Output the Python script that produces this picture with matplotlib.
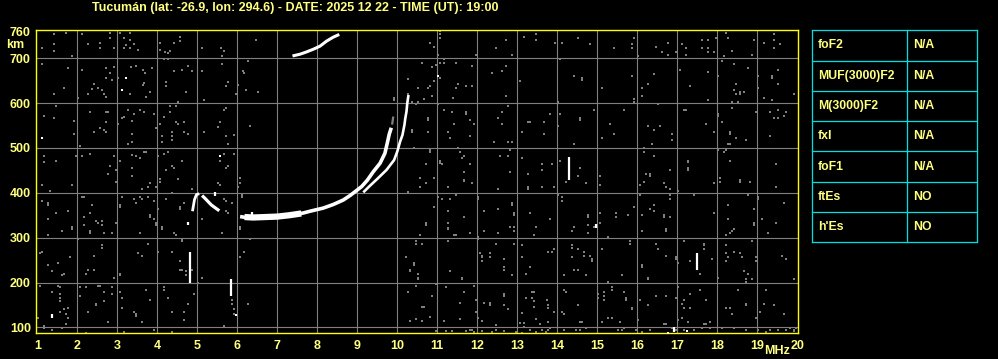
import matplotlib
matplotlib.use("Agg")
from matplotlib import pyplot as plt

# ---- ionogram header / table ----
titulo = "Tucumán (lat: -26.9, lon: 294.6) - DATE: 2025 12 22 - TIME (UT): 19:00"
param_nombres = ["foF2", "MUF(3000)F2", "M(3000)F2", "fxI", "foF1", "ftEs", "h'Es"]
param_valores = ["N/A", "N/A", "N/A", "N/A", "N/A", "NO", "NO"]

xticks = list(range(1, 21))
yticks = [100, 200, 300, 400, 500, 600, 700, 760]

# ---- echo traces (MHz, km) ----
f_banda = [6.18, 6.4, 6.7, 7.0, 7.3, 7.6]
h_banda = [346, 345, 346, 347, 350, 354]
f_main = [6.07, 6.3, 6.6, 7.0, 7.3, 7.65, 7.82, 8.15, 8.4, 8.65, 8.82, 8.98, 9.11, 9.25,
          9.40, 9.57, 9.69, 9.75, 9.80, 9.85]
h_main = [347, 344, 345, 347, 350, 355, 359, 366, 374, 384, 394, 405, 414, 428,
          447, 466, 488, 511, 531, 545]
f_main_top = [9.87, 9.90]
h_main_top = [552, 570]
f_seg = [9.15, 9.32, 9.5, 9.73, 9.92, 10.0, 10.07, 10.13, 10.18, 10.2, 10.23, 10.25, 10.28]
h_seg = [401, 416, 431, 451, 473, 492, 514, 529, 552, 566, 581, 600, 618]
f_salto = [7.38, 7.57, 7.73, 7.90, 8.07, 8.23, 8.40, 8.55]
h_salto = [705, 709, 714, 720, 727, 738, 747, 753]
f_cusp_izq = [4.88, 4.93, 4.98, 5.05]
h_cusp_izq = [359, 385, 396, 398]
f_cusp_der = [5.12, 5.2, 5.35, 5.55]
h_cusp_der = [394, 387, 373, 360]

# vertical spikes: freq, h_low, h_high
spikes = [(4.83, 200, 267), (5.84, 170, 207), (14.3, 428, 480), (17.5, 228, 266),
          (1.38, 122, 131), (14.98, 322, 330), (16.93, 90, 100), (6.38, 350, 357),
          (5.45, 394, 401), (4.78, 328, 334)]
puntos_blancos = [(3.23, 656), (3.13, 629), (1.13, 522), (5.58, 481), (5.98, 128),
                  (17.25, 92), (16.78, 88), (11.03, 660)]

# ---- background noise (MHz, km) ----
ruido_a = [(1.43,754),(1.73,757),(2.13,753),(2.58,762),(2.83,757),(3.08,757),(3.33,757),(3.18,746),
    (3.33,740),(3.43,731),(3.22,729),(2.83,744),(2.58,735),(2.58,723),(2.28,731),(2.93,723),(3.18,722),
    (3.33,722),(3.53,719),(1.43,731),(1.43,717),(1.13,722),(1.88,704),(4.07,735),(4.08,719),(4.20,713),
    (4.28,711),(4.33,717),(4.18,699),(4.28,699),(4.58,747),(4.58,738),(4.43,735),(5.13,723),(5.60,722),
    (5.68,717),(5.63,704),(6.48,740),
    (1.13,687),(1.78,678),(2.13,674),(2.73,678),(2.93,681),(2.83,666),(2.73,656),(2.88,652),(3.03,656),
    (3.35,680),(3.48,683),(3.65,674),(3.70,666),(3.88,678),(3.68,644),(3.65,640),(4.23,647),(4.23,638),
    (4.43,671),(4.63,674),(4.78,683),(4.88,671),(5.13,671),(5.63,687),(5.78,647),(5.73,638),(6.03,640),
    (6.15,671),(6.18,666),(6.28,693),(6.23,629),(6.53,625),(1.68,634),(1.43,620),(2.03,611),(2.28,620),
    (2.38,632),(2.43,643),(2.53,634),(2.63,629),(2.68,620),(2.73,613),(3.32,620),(3.73,614),(3.83,625),
    (4.73,625),(5.18,607),(5.98,620),(4.53,602),
    (1.48,593),(1.17,571),(1.43,566),(1.93,560),(2.33,580),(2.73,580),(2.78,580),(2.73,558),(2.58,544),
    (2.68,541),(2.43,535),(2.73,535),(1.93,531),(2.08,504),(3.28,584),(3.43,575),(3.18,569),(3.13,566),
    (3.58,584),(3.68,580),(3.93,575),(3.38,560),(3.03,553),(3.38,531),(3.28,508),(3.38,513),(3.98,544),
    (4.33,593),(4.33,580),(4.48,593),(4.18,569),(4.08,553),(4.48,558),(4.53,553),(4.68,558),(4.13,526),
    (4.38,535),(4.38,526),(4.38,517),(4.13,513),(4.68,535),(4.78,531),(5.18,535),(5.73,589),(5.68,584),
    (5.53,547),(5.58,558),(5.73,526),(5.93,529),(5.78,508),(6.33,549),
    (1.18,481),(1.18,468),(1.48,472),(1.98,481),(2.13,481),(2.33,486),(2.93,481),(2.83,459),(2.78,441),
    (2.98,450),(3.08,472),(3.38,484),(3.48,481),(3.58,477),(3.68,490),(3.73,490),(3.38,455),(3.38,437),
    (4.03,481),(4.28,490),(4.18,486),(4.63,472),(4.38,459),(4.43,455),(4.23,450),(5.58,472),(5.68,486),
    (5.93,486),(5.78,459),(5.73,455),(6.08,434),(4.08,431),(4.53,431)]
ruido_b = [(1.13,417),(1.33,404),(1.88,417),(2.98,424),(3.63,408),(3.78,413),(3.83,422),(3.98,413),
    (4.08,424),(4.38,399),(4.88,408),(5.53,422),(5.58,417),(6.03,413),(6.08,422),(6.13,395),(6.13,390),
    (1.13,381),(1.28,377),(1.28,372),(1.48,354),(1.78,359),(1.28,341),(1.63,314),(1.28,305),(1.88,323),
    (1.88,319),(2.18,346),(2.18,328),(2.13,390),(2.18,390),(2.38,372),(2.33,354),(2.48,337),(2.53,332),
    (2.63,337),(2.63,328),(2.68,310),(2.88,310),(2.33,314),(2.33,310),(2.98,332),(3.08,372),(3.08,368),
    (3.13,390),(3.43,386),(3.48,377),(3.58,390),(3.63,386),(3.78,390),(3.93,381),(3.83,350),(3.83,346),
    (3.93,341),(3.98,332),(3.98,328),(3.58,310),(4.13,323),(4.13,319),(4.03,363),(4.23,386),(4.58,368),
    (4.58,363),(4.68,377),(5.13,341),(5.63,310),(5.68,386),(5.73,381),(5.88,377),(5.73,359),(5.78,354),
    (6.08,323),(6.08,319),(6.33,296),(2.03,296),(1.13,269),(1.08,265),(1.83,256),(1.53,243),(1.28,238),
    (1.38,225),(1.63,216),(1.68,220),(2.28,229),(2.23,220),(2.43,229),(2.43,260),(2.63,278),(2.63,283),
    (2.93,211),(3.08,220),(3.08,216),(3.53,265),(3.63,260),(3.78,287),(4.03,269),(4.38,269),(4.58,247),
    (4.58,229),(4.63,229),(4.73,225),(4.73,216),(4.88,229),(5.13,211),(4.63,295),(4.63,292),(4.43,310),
    (4.48,305),(6.18,269),(6.08,256),(0.98,211),(0.98,207),(1.08,193),(1.53,193),(1.58,189),(1.58,175),
    (1.58,166),(1.38,180),(1.58,158),(1.78,144),(1.68,140),(1.58,135),(1.73,131),(1.78,122),(1.03,122),
    (1.18,104),(1.38,95),(1.63,99),(1.73,108),(2.23,189),(2.08,171),(2.08,189),(2.28,135),(2.48,149),
    (2.48,153),(2.53,193),(2.58,193),(2.68,180),(2.68,158),(2.78,113),(2.88,175),(2.88,189),(3.08,180),
    (3.13,166),(3.13,144),(3.43,135),(3.48,126),(3.63,113),(3.73,184),(3.83,162),(3.93,95),(4.18,189),
    (4.18,184),(4.28,166),(4.38,135),(4.68,135),(4.68,117),(4.78,153),(4.93,175),(5.03,198),(5.13,211),
    (5.88,162),(5.88,153),(5.93,140),(5.93,131),(5.68,104),(6.28,153),(4.38,90),(2.23,87),(3.18,90),
    (3.18,86),(1.18,99),(3.48,131)]
ruido_c = [(8.53,762),(11.08,760),(11.08,753),(11.08,744),(10.83,735),(10.93,726),(11.03,708),
    (11.98,708),(12.48,722),(12.73,740),(12.88,708),(13.18,762),(13.18,747),(13.48,753),(13.48,740),
    (10.63,689),(10.88,680),(10.98,686),(11.08,690),(11.18,698),(11.18,690),(11.48,689),(11.88,683),
    (12.38,666),(12.63,671),(12.73,683),(13.08,649),(10.53,634),(10.78,634),(10.83,638),(10.93,649),
    (11.08,656),(11.53,643),(11.48,634),(11.73,638),(11.88,638),(10.88,616),(10.68,608),(11.4,611),
    (12.73,616),(10.28,654),(10.28,620),(9.93,611),(10.38,602),(10.48,598),(10.53,602),(11.03,598),
    (11.18,584),(11.38,580),(11.73,580),(11.73,575),(10.78,566),(10.78,562),(11.83,562),(11.93,553),
    (11.43,553),(11.28,535),(10.78,535),(11.33,522),(11.83,526),(10.38,540),(10.38,535),(12.53,566),
    (12.63,580),(12.78,593),(12.63,553),(12.43,513),(12.78,513),(12.88,513),(13.28,558),(13.33,558),
    (13.13,535),(10.43,499),(10.83,495),(10.83,490),(11.53,499),(11.58,490),(11.68,481),(11.63,477),
    (11.08,472),(11.08,466),(11.13,464),(10.73,464),(11.83,464),(11.68,446),(12.58,481),(12.78,481),
    (12.83,495),(13.13,477),(13.63,464),(13.63,450),(12.83,446),(13.28,441),(10.58,432),(10.93,432),
    (11.68,428),(9.93,607),
    (10.28,401),(10.58,413),(10.73,422),(11.28,413),(11.68,426),(11.88,422),(12.53,408),(13.28,413),
    (13.28,408),(13.63,413),(10.93,368),(11.03,390),(11.13,386),(11.33,386),(11.48,395),(12.03,390),
    (12.03,386),(12.88,377),(12.88,372),(12.53,363),(12.18,359),(11.28,359),(11.68,346),(12.93,354),
    (12.93,350),(13.33,354),(10.73,332),(10.73,328),(11.28,332),(11.28,322),(11.28,319),(10.58,305),
    (11.43,305),(11.48,305),(11.83,310),(12.18,314),(12.53,310),(12.83,323),(12.93,323),(12.93,314),
    (13.43,305),(13.48,323),(10.48,292),(10.48,287),(10.63,287),(11.28,292),(12.03,301),(12.03,296),
    (12.48,287),(12.93,287),(13.13,283),(10.23,256),(10.43,243),(10.43,238),(10.33,229),(10.33,225),
    (10.53,220),(10.53,211),(10.53,207),(11.33,225),(11.63,211),(11.63,207),(12.08,265),(12.13,260),
    (12.13,256),(12.13,247),(12.33,265),(12.33,256),(12.68,252),(12.68,234),(12.68,229),(12.88,216),
    (13.13,256),(13.23,220),(13.33,234),(10.98,196),(10.48,193),(10.28,180),(10.88,171),(11.23,189),
    (11.68,180),(11.93,193),(10.63,146),(10.68,146),(10.33,114),(10.48,119),(10.63,114),(10.83,123),
    (11.18,114),(11.58,119),(11.58,155),(11.98,162),(11.98,135),(12.03,122),(12.18,155),(12.33,155),
    (12.33,150),(12.13,114),(12.48,105),(12.68,175),(12.68,171),(12.68,150),(12.78,141),(13.13,132),
    (13.23,166),(13.38,180),(13.43,180),(13.38,166),(13.43,159),(13.43,146),(13.48,119),(13.08,110),
    (13.18,110),(13.18,101),(10.98,92),(11.23,92),(11.38,92),(11.73,92),(11.83,95),(11.88,95),(11.93,90),
    (12.13,92),(12.38,90),(12.48,95),(12.68,92),(12.98,90),(13.13,87),(13.33,95),(13.48,90),(13.58,108),
    (13.63,95)]
ruido_d = [(13.95,735),(14.13,735),(14.53,744),(14.83,731),(15.43,722),(15.88,731),(15.88,722),
    (15.93,744),(16.48,726),(16.63,713),(16.78,735),(16.78,708),(16.98,713),(17.13,731),(17.23,722),
    (17.23,708),(17.63,740),(17.78,740),(17.63,722),(17.78,722),(17.78,713),(17.93,713),(17.98,744),
    (18.23,757),(18.28,744),(18.38,717),(18.18,704),(18.13,693),(18.88,708),(18.93,740),(19.18,762),
    (19.18,735),(19.43,762),(19.43,753),(19.43,740),(19.58,731),(19.43,722),(16.03,704),(14.08,699),
    (14.43,660),(14.63,656),(14.63,652),(15.13,634),(15.88,660),(16.43,665),(16.28,643),(16.13,634),
    (16.13,616),(15.93,610),(15.93,602),(17.08,674),(17.33,638),(17.78,669),(17.78,607),(18.03,660),
    (18.43,687),(18.78,678),(18.48,643),(18.43,629),(18.58,625),(18.68,625),(18.58,620),(18.48,620),
    (19.03,660),(19.03,634),(19.38,660),(19.38,656),(19.53,674),(19.53,643),(19.18,611),(19.38,607),
    (19.93,620),(18.38,602),(18.53,602),(14.03,602),(13.83,575),(14.08,575),(14.03,549),(13.68,558),
    (13.68,531),(14.58,566),(14.58,562),(14.93,584),(15.33,553),(15.68,584),(15.43,531),(15.13,522),
    (14.43,508),(16.28,549),(16.43,540),(16.58,549),(16.53,598),(16.88,531),(16.88,517),(16.38,508),
    (17.23,584),(17.18,584),(17.73,553),(17.93,535),(18.03,575),(18.03,571),(18.13,558),(18.38,589),
    (18.33,535),(18.33,531),(18.48,522),(18.73,517),(18.28,508),(18.33,508),(18.98,580),(19.33,580),
    (19.53,584),(19.73,580),(19.68,571),(19.43,566),(19.53,566),(19.33,526),(14.08,472),(13.88,464),
    (14.58,455),(14.53,437),(15.08,437),(16.18,499),(16.18,490),(16.43,481),(16.83,450),(17.28,472),
    (17.28,468),(17.28,455),(17.28,450),(16.23,441),(16.33,441),(16.33,437),(18.03,495),(18.23,495),
    (18.18,490),(18.33,472),(19.48,464),(18.08,432),(18.58,428)]
ruido_e = [(13.93,413),(14.23,425),(14.73,422),(15.08,417),(16.08,417),(16.18,425),(16.68,422),
    (16.73,413),(16.83,408),(17.03,404),(17.93,422),(18.08,425),(18.58,425),(18.83,425),(19.48,413),
    (14.03,395),(14.13,390),(14.13,381),(14.78,350),(14.78,346),(14.93,323),(14.78,328),(14.78,310),
    (15.08,354),(15.08,332),(13.83,341),(14.43,323),(14.38,314),(15.48,354),(15.48,346),(15.78,350),
    (15.93,368),(16.13,350),(16.33,363),(16.43,372),(16.43,359),(16.68,350),(16.68,346),(16.83,346),
    (16.83,395),(16.83,386),(16.08,395),(16.13,314),(16.73,319),(16.73,314),(17.43,395),(17.93,354),
    (18.28,372),(18.28,341),(18.38,314),(18.43,319),(18.23,305),(18.33,310),(18.78,395),(19.03,390),
    (19.03,386),(18.93,363),(18.93,332),(18.93,328),(19.13,341),(19.28,310),(19.48,332),(19.68,377),
    (15.28,301),(14.38,283),(14.38,278),(14.53,274),(14.68,269),(14.68,260),(14.83,260),(14.88,252),
    (14.88,247),(13.88,269),(13.78,269),(13.93,274),(14.38,256),(14.43,229),(14.53,229),(14.18,216),
    (14.73,216),(15.13,274),(15.63,216),(15.83,292),(15.83,287),(16.13,238),(16.13,234),(16.28,211),
    (16.28,207),(16.48,287),(16.53,274),(16.73,260),(16.98,256),(16.98,252),(17.03,243),(17.18,292),
    (17.33,247),(17.58,220),(17.68,287),(17.68,283),(17.68,274),(17.88,252),(18.03,211),(18.23,283),
    (18.23,265),(18.23,247),(18.28,256),(18.43,269),(18.58,265),(18.63,256),(18.68,225),(18.78,220),
    (18.88,292),(18.98,256),(18.98,247),(18.88,207),(18.73,207),(18.73,202),(19.63,260),(19.73,252),
    (19.93,207),(15.28,202),(13.75,162),(13.78,149),(13.78,144),(14.18,184),(14.23,180),(13.93,135),
    (14.13,135),(14.18,131),(14.53,149),(13.78,113),(13.83,99),(14.58,113),(14.73,99),(15.03,175),
    (15.03,166),(15.18,180),(15.18,171),(15.18,162),(15.38,189),(15.38,184),(15.68,180),(15.73,166),
    (15.73,162),(15.88,144),(15.88,140),(15.28,122),(15.38,122),(15.13,113),(15.58,113),(15.68,99),
    (16.03,117),(16.08,162),(16.28,149),(16.48,171),(16.73,171),(16.98,166),(17.03,189),(17.03,117),
    (17.13,153),(17.18,162),(17.18,144),(17.33,175),(17.33,144),(17.58,184),(17.73,162),(17.73,108),
    (17.83,113),(17.83,99),(17.68,108),(17.13,122),(17.28,113),(18.23,144),(18.33,144),(18.38,131),
    (18.53,184),(18.73,153),(18.73,149),(18.98,122),(19.08,135),(19.18,153),(19.23,184),(19.43,149),
    (19.68,131),(19.83,99),(19.93,92),(13.78,95),(13.73,90),(14.18,95),(14.48,95),(14.58,95),(14.63,113),
    (15.53,95),(15.63,95),(15.98,95),(16.13,90),(16.33,95),(16.68,108),(16.73,108),(16.88,99),(16.98,95),
    (17.18,95),(17.43,95),(17.63,99),(18.13,99),(18.43,99),(18.73,95),(19.03,95),(19.23,90),(19.33,95),
    (19.53,95),(19.73,95),(19.93,95),(19.98,99)]

AMARILLO = "#ffff00"
TEXTO = "#ffff80"
GRIS = "#808080"
CIAN = "#00e0e0"
FUENTE = "Liberation Sans"

fig = plt.figure(figsize=(9.98, 3.59), dpi=100, facecolor="black")
ax = fig.add_axes([0.03577, 0.0730, 0.7635, 0.8448])
ax.set_facecolor("black")
ax.set_xlim(0.96, 20.01)
ax.set_ylim(88, 764)

for f in range(2, 20):
    ax.axvline(f, color=GRIS, lw=0.8, zorder=1)
for h in range(100, 800, 100):
    ax.axhline(h, color=GRIS, lw=0.8, zorder=1)

for ruido in [ruido_a, ruido_b, ruido_c, ruido_d, ruido_e]:
    ax.scatter([p[0] for p in ruido], [p[1] for p in ruido], s=4.5, marker="s",
               color=GRIS, linewidths=0, zorder=2)

# echo traces
ax.plot(f_banda, h_banda, color="white", lw=4.5, solid_capstyle="butt", zorder=3)
ax.plot(f_main, h_main, color="white", lw=2.6, solid_capstyle="butt", zorder=3)
ax.plot(f_main_top, h_main_top, color=GRIS, lw=1.6, solid_capstyle="butt", zorder=3)
ax.plot(f_seg, h_seg, color="white", lw=1.9, solid_capstyle="butt", zorder=3)
ax.plot(f_salto, h_salto, color="white", lw=2.2, solid_capstyle="butt", zorder=3)
ax.plot(f_cusp_izq, h_cusp_izq, color="white", lw=2.0, solid_capstyle="butt", zorder=3)
ax.plot(f_cusp_der, h_cusp_der, color="white", lw=2.3, solid_capstyle="butt", zorder=3)
for f, h0, h1 in spikes:
    ax.plot([f, f], [h0, h1], color="white", lw=1.6, solid_capstyle="butt", zorder=3)
ax.scatter([p[0] for p in puntos_blancos], [p[1] for p in puntos_blancos], s=2.5,
           marker="s", color="white", linewidths=0, zorder=3)

for lado in ax.spines.values():
    lado.set_color(AMARILLO)
    lado.set_linewidth(1.0)

ax.set_xticks(xticks)
ax.set_yticks(yticks)
ax.tick_params(length=0, pad=3.5, colors=TEXTO)
ax.tick_params(axis="x", pad=5.5)
for lab in ax.get_xticklabels() + ax.get_yticklabels():
    lab.set_fontfamily(FUENTE)
    lab.set_fontweight("bold")
    lab.set_fontsize(9)
    lab.set_color(TEXTO)

fig.text(6 / 998, 1 - 45 / 359, "km", color=TEXTO, fontsize=9, fontweight="bold",
         family=FUENTE, ha="left", va="center")
fig.text(777 / 998, 1 - 351 / 359, "MHz", color=TEXTO, fontsize=9, fontweight="bold",
         family=FUENTE, ha="center", va="center")
fig.text(295 / 998, 1 - 7.5 / 359, titulo, color=TEXTO, fontsize=9, fontweight="bold",
         family=FUENTE, ha="center", va="center")

# parameter table
tab = fig.add_axes([812 / 998, 1 - 242.3 / 359, 165 / 998, 212 / 359])
tab.set_xlim(0, 1)
tab.set_ylim(0, len(param_nombres))
tab.axis("off")
n = len(param_nombres)
for i in range(n + 1):
    tab.plot([0, 1], [i, i], color=CIAN, lw=0.9, clip_on=False)
for x in [0, 0.576, 1]:
    tab.plot([x, x], [0, n], color=CIAN, lw=0.9, clip_on=False)
for i, (nom, val) in enumerate(zip(param_nombres, param_valores)):
    y = n - i - 0.5
    tab.text(0.036, y, nom, color=TEXTO, fontsize=8.8, fontweight="bold",
             family=FUENTE, ha="left", va="center")
    tab.text(0.612, y, val, color=TEXTO, fontsize=8.8, fontweight="bold",
             family=FUENTE, ha="left", va="center")

fig.savefig("out.png", dpi=100, facecolor="black")
